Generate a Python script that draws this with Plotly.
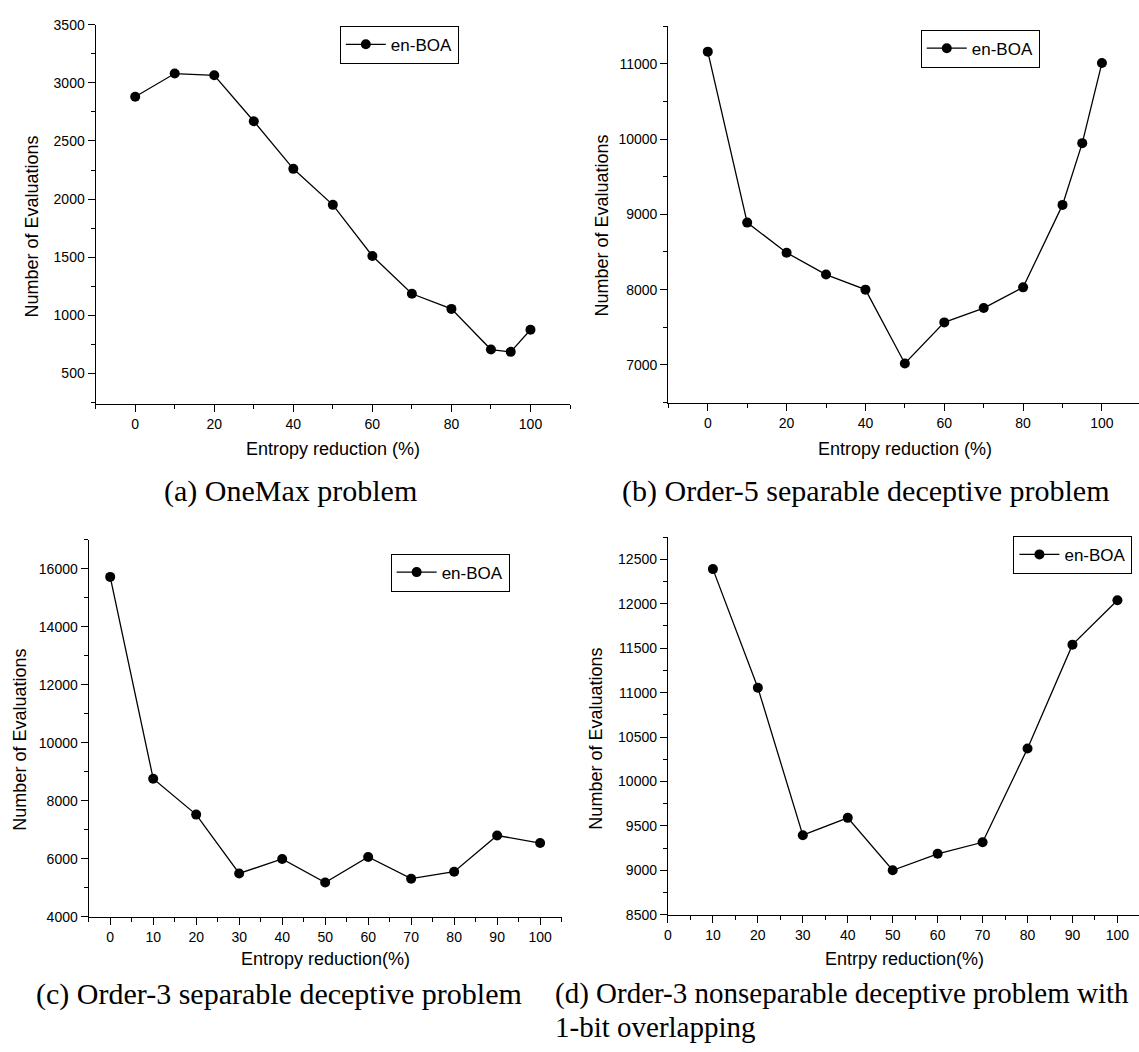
import plotly.graph_objects as go

W, H = 1139, 1052

# ---------------- data ----------------
x_a = [0, 10, 20, 30, 40, 50, 60, 70, 80, 90, 95, 100]
y_a = [2880, 3080, 3065, 2670, 2260, 1950, 1510, 1185, 1055, 705, 685, 875]

x_b = [0, 10, 20, 30, 40, 50, 60, 70, 80, 90, 95, 100]
y_b = [11160, 8890, 8490, 8200, 8000, 7020, 7565, 7755, 8030, 9125, 9945, 11010]

x_c = [0, 10, 20, 30, 40, 50, 60, 70, 80, 90, 100]
y_c = [15720, 8760, 7520, 5490, 5990, 5180, 6060, 5310, 5550, 6800, 6540]

x_d = [10, 20, 30, 40, 50, 60, 70, 80, 90, 100]
y_d = [12390, 11055, 9395, 9590, 9000, 9185, 9315, 10370, 11540, 12040]

series_name = "en-BOA"
y_title = "Number of Evaluations"
x_titles = ["Entropy reduction (%)", "Entropy reduction (%)",
            "Entropy reduction(%)", "Entrpy reduction(%)"]
captions = ["(a) OneMax problem",
            "(b) Order-5 separable deceptive problem",
            "(c) Order-3 separable deceptive problem",
            "(d) Order-3 nonseparable deceptive problem with",
            "1-bit overlapping"]

SANS = "Liberation Sans, Arial, sans-serif"
SERIF = "Liberation Serif, Times New Roman, serif"


def px(v):
    return v / W


def py(v):
    return 1 - v / H


fig = go.Figure()

# panel geometry in pixels: (left, right, top, bottom)
panels = [
    dict(x=x_a, y=y_a, dom=(92, 568, 17, 401.7), xr=[-10, 110], yr=[240, 3500],
         xd=20, xm=10, yd=500, ym=250, y0=500,
         leg=(337, 18), ytitle=(28, 222), xtitle=(330, 448)),
    dict(x=x_b, y=y_b, dom=(666.7, 1139, 18.3, 400.7), xr=[-10, 109.4], yr=[6500, 11500],
         xd=20, xm=10, yd=1000, ym=500, y0=7000,
         leg=(920, 22), ytitle=(600, 221), xtitle=(904, 448)),
    dict(x=x_c, y=y_c, dom=(85, 559.6, 540, 922.7), xr=[-5, 105], yr=[4000, 17000],
         xd=10, xm=5, yd=2000, ym=1000, y0=4000,
         leg=(388, 554), ytitle=(16, 743), xtitle=(323, 966)),
    dict(x=x_d, y=y_d, dom=(666.3, 1139, 537.3, 920.7), xr=[0, 104.8], yr=[8500, 12750],
         xd=10, xm=5, yd=500, ym=250, y0=8500,
         leg=(1013, 536), ytitle=(594, 742), xtitle=(904, 966)),
]

annotations = []
for i, p in enumerate(panels):
    n = "" if i == 0 else str(i + 1)
    legname = "legend" + n
    fig.add_trace(go.Scatter(
        x=p["x"], y=p["y"], mode="lines+markers", name=series_name,
        line=dict(color="black", width=1.3),
        marker=dict(color="black", size=10),
        xaxis="x" + n, yaxis="y" + n, legend=legname, showlegend=True,
    ))
    l, r, t, b = p["dom"]
    common = dict(showline=True, linecolor="black", linewidth=1.3,
                  ticks="outside", ticklen=7, tickwidth=1.3, tickcolor="black",
                  showgrid=False, zeroline=False, tickformat="d",
                  tickfont=dict(family=SANS, size=14, color="black"))
    fig.update_layout(**{
        "xaxis" + n: dict(domain=[px(l), px(r)], range=p["xr"], anchor="y" + n,
                          tick0=0, dtick=p["xd"],
                          minor=dict(ticks="outside", ticklen=4, tickwidth=1.3,
                                     tickcolor="black", tick0=0, dtick=p["xm"],
                                     showgrid=False),
                          **common),
        "yaxis" + n: dict(domain=[py(b), py(t)], range=p["yr"], anchor="x" + n,
                          tick0=p["y0"], dtick=p["yd"],
                          minor=dict(ticks="outside", ticklen=4, tickwidth=1.3,
                                     tickcolor="black", tick0=p["y0"], dtick=p["ym"],
                                     showgrid=False),
                          **common),
        legname: dict(x=px(p["leg"][0]), y=py(p["leg"][1]), xanchor="left", yanchor="top",
                      bordercolor="black", borderwidth=1, bgcolor="white",
                      font=dict(family=SANS, size=17, color="black"),
                      itemwidth=40, tracegroupgap=0),
    })
    annotations.append(dict(text=y_title, x=px(p["ytitle"][0]), y=py(p["ytitle"][1]),
                            xref="paper", yref="paper", textangle=-90, showarrow=False,
                            xanchor="center", yanchor="middle",
                            font=dict(family=SANS, size=18, color="black")))
    annotations.append(dict(text=x_titles[i], x=px(p["xtitle"][0]), y=py(p["xtitle"][1]),
                            xref="paper", yref="paper", showarrow=False,
                            xanchor="center", yanchor="middle",
                            font=dict(family=SANS, size=18, color="black")))

cap_font = dict(family=SERIF, size=30, color="black")
cap_font_d = dict(family=SERIF, size=29, color="black")
caps = [
    dict(text=captions[0], x=px(288), y=py(490), xanchor="center", yanchor="middle", font=cap_font),
    dict(text=captions[1], x=px(865), y=py(490), xanchor="center", yanchor="middle", font=cap_font),
    dict(text=captions[2], x=px(276), y=py(1001), xanchor="center", yanchor="middle", font=cap_font),
    dict(text=captions[3], x=px(551), y=py(1001), xanchor="left", yanchor="middle", font=cap_font_d),
    dict(text=captions[4], x=px(551), y=py(1035), xanchor="left", yanchor="middle", font=cap_font_d),
]
for a in caps:
    a.update(xref="paper", yref="paper", showarrow=False)
annotations += caps

fig.update_layout(width=W, height=H, margin=dict(l=0, r=0, t=0, b=0),
                  paper_bgcolor="white", plot_bgcolor="white",
                  annotations=annotations)

fig.write_html("out.html")
